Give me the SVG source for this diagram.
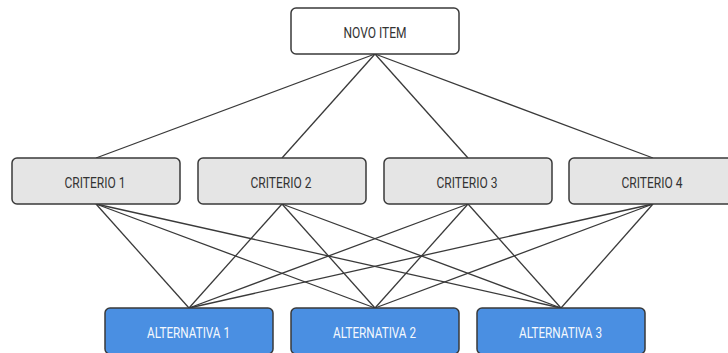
<svg xmlns="http://www.w3.org/2000/svg" width="728" height="353" viewBox="0 0 728 353">
<style>
.n{stroke:#3a3a3a;stroke-width:1.5}
.top{fill:#ffffff}
.crit{fill:#e5e5e5}
.alt{fill:#4a8fe2}
.t{font-family:Roboto,"Liberation Sans",sans-serif;font-size:15px;text-anchor:middle;fill:#333}
.tw{fill:#f4f8fd}
.c line{stroke:#3a3a3a;stroke-width:1.3}
</style>
<rect width="728" height="353" fill="#ffffff"/>
<g class="c" id="connectors">
<line x1="375" y1="54" x2="96" y2="158"/>
<line x1="375" y1="54" x2="282" y2="158"/>
<line x1="375" y1="54" x2="468" y2="158"/>
<line x1="375" y1="54" x2="653" y2="158"/>
<line x1="96" y1="204" x2="189" y2="308"/>
<line x1="96" y1="204" x2="375" y2="308"/>
<line x1="96" y1="204" x2="561" y2="308"/>
<line x1="282" y1="204" x2="189" y2="308"/>
<line x1="282" y1="204" x2="375" y2="308"/>
<line x1="282" y1="204" x2="561" y2="308"/>
<line x1="468" y1="204" x2="189" y2="308"/>
<line x1="468" y1="204" x2="375" y2="308"/>
<line x1="468" y1="204" x2="561" y2="308"/>
<line x1="653" y1="204" x2="189" y2="308"/>
<line x1="653" y1="204" x2="375" y2="308"/>
<line x1="653" y1="204" x2="561" y2="308"/>
</g>
<g id="novo-item"><rect class="n top" x="291" y="8" width="168" height="46" rx="5"/><text class="t" x="375" y="37.5" textLength="63" lengthAdjust="spacingAndGlyphs">NOVO ITEM</text></g>
<g id="criterio-1"><rect class="n crit" x="12" y="158" width="168" height="46" rx="5"/><text class="t" x="95" y="188" textLength="61" lengthAdjust="spacingAndGlyphs">CRITERIO 1</text></g>
<g id="criterio-2"><rect class="n crit" x="198" y="158" width="168" height="46" rx="5"/><text class="t" x="281" y="188" textLength="61" lengthAdjust="spacingAndGlyphs">CRITERIO 2</text></g>
<g id="criterio-3"><rect class="n crit" x="384" y="158" width="168" height="46" rx="5"/><text class="t" x="467" y="188" textLength="61" lengthAdjust="spacingAndGlyphs">CRITERIO 3</text></g>
<g id="criterio-4"><rect class="n crit" x="569" y="158" width="168" height="46" rx="5"/><text class="t" x="652" y="188" textLength="61" lengthAdjust="spacingAndGlyphs">CRITERIO 4</text></g>
<g id="alternativa-1"><rect class="n alt" x="105" y="308" width="168" height="46" rx="5"/><text class="t tw" x="188.5" y="338" textLength="83" lengthAdjust="spacingAndGlyphs">ALTERNATIVA 1</text></g>
<g id="alternativa-2"><rect class="n alt" x="291" y="308" width="168" height="46" rx="5"/><text class="t tw" x="374.5" y="338" textLength="83" lengthAdjust="spacingAndGlyphs">ALTERNATIVA 2</text></g>
<g id="alternativa-3"><rect class="n alt" x="477" y="308" width="168" height="46" rx="5"/><text class="t tw" x="560.5" y="338" textLength="83" lengthAdjust="spacingAndGlyphs">ALTERNATIVA 3</text></g>
</svg>
